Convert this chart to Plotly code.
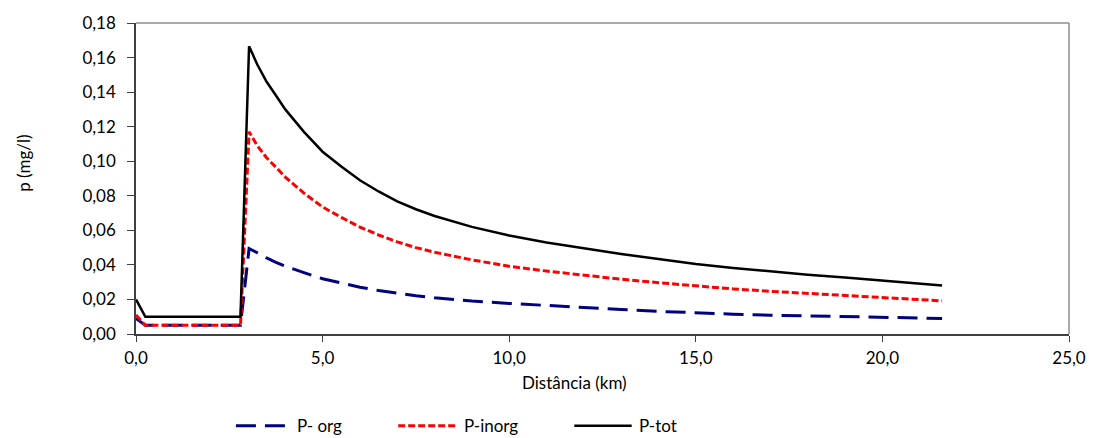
import plotly.graph_objects as go

distance_km = [0.0, 0.25, 2.8, 3.03, 3.25, 3.5, 3.75, 4.0, 4.5, 5.0, 5.5, 6.0, 6.5, 7.0, 7.5, 8.0,
               9.0, 10.0, 11.0, 12.0, 13.0, 14.0, 15.0, 16.0, 17.0, 18.0, 19.0, 20.0, 21.0, 21.6]
p_org = [0.009, 0.005, 0.005, 0.0495, 0.047, 0.044, 0.0415, 0.0392, 0.0355, 0.032, 0.0295,
         0.0271, 0.0252, 0.0235, 0.0222, 0.021, 0.0191, 0.0177, 0.0164, 0.0153, 0.0142,
         0.0131, 0.0122, 0.0115, 0.0109, 0.0104, 0.0099, 0.0095, 0.0092, 0.0090]
p_inorg = [0.011, 0.005, 0.005, 0.117, 0.109, 0.102, 0.0965, 0.0908, 0.0815, 0.0735, 0.0675,
           0.0619, 0.0573, 0.0533, 0.050, 0.0473, 0.0429, 0.0392, 0.0364, 0.0339, 0.0317,
           0.0297, 0.0277, 0.0261, 0.0247, 0.0234, 0.0222, 0.0209, 0.0199, 0.0192]
p_tot = [0.020, 0.010, 0.010, 0.1665, 0.156, 0.146, 0.138, 0.130, 0.117, 0.1055, 0.097, 0.089,
         0.0825, 0.0768, 0.0722, 0.0683, 0.0620, 0.0570, 0.0530, 0.0495, 0.0463, 0.0434,
         0.0405, 0.0382, 0.0361, 0.0343, 0.0327, 0.0310, 0.0293, 0.0280]

series_names = ["P- org", "P-inorg", "P-tot"]
x_ticks = [0, 5, 10, 15, 20, 25]
y_ticks = [0.0, 0.02, 0.04, 0.06, 0.08, 0.10, 0.12, 0.14, 0.16, 0.18]

W, H = 1098, 438
L, R, T, B = 136, 19, 22, 104
FONT = "Lato"
FS = 17

styles = [
    dict(color="#000080", width=3, dash="20px,9px"),
    dict(color="#FF0000", width=3, dash="7px,3px"),
    dict(color="#000000", width=2.5, dash="solid"),
]
values = [p_org, p_inorg, p_tot]

fig = go.Figure()
for name, v, st in zip(series_names, values, styles):
    fig.add_trace(go.Scatter(x=distance_km, y=v, mode="lines", name=name,
                             line=st, showlegend=False))

fig.update_layout(
    width=W, height=H,
    margin=dict(l=L, r=R, t=T, b=B),
    paper_bgcolor="white", plot_bgcolor="white",
    separators=",.",
    font=dict(family=FONT, size=FS, color="#000000"),
    xaxis=dict(range=[0, 25], tickvals=x_ticks, tickformat=".1f", showgrid=False,
               zeroline=False, showline=True, linecolor="#404040", linewidth=1.5,
               ticks="outside", ticklen=6, tickcolor="#404040", tickwidth=1.2,
               ticklabelstandoff=2),
    yaxis=dict(range=[0, 0.18], tickvals=y_ticks, tickformat=".2f", showgrid=False,
               zeroline=False, showline=True, linecolor="#404040", linewidth=1.5,
               ticks="outside", ticklen=7, tickcolor="#404040", tickwidth=1.2,
               ticklabelstandoff=8),
)

shapes = [
    dict(type="line", xref="paper", yref="paper", x0=0, x1=1, y0=1, y1=1,
         line=dict(color="#8c8c8c", width=1.5)),
    dict(type="line", xref="paper", yref="paper", x0=1, x1=1, y0=0, y1=1,
         line=dict(color="#8c8c8c", width=1.5)),
]

pw = W - L - R
ph = H - T - B

def to_paper_x(pxv):
    return (pxv - L) / pw

def to_paper_y(pyv):
    return (H - B - pyv) / ph

legend_pos = [(237, 293, 297), (401, 460, 465), (579, 637, 642)]
annotations = []
ly = 426
for name, st, (x0, x1, tx) in zip(series_names, styles, legend_pos):
    shapes.append(dict(type="line", xref="paper", yref="paper",
                       x0=to_paper_x(x0), x1=to_paper_x(x1),
                       y0=to_paper_y(ly), y1=to_paper_y(ly),
                       line=dict(color=st["color"], width=st["width"], dash=st["dash"])))
    annotations.append(dict(text=name, xref="paper", yref="paper",
                            x=to_paper_x(tx), y=to_paper_y(ly), xanchor="left",
                            yanchor="middle", showarrow=False,
                            font=dict(family=FONT, size=FS, color="#000000")))

annotations.append(dict(text="Distância (km)", xref="paper", yref="paper",
                        x=to_paper_x(579), y=to_paper_y(383), xanchor="center",
                        yanchor="middle", showarrow=False,
                        font=dict(family=FONT, size=FS, color="#000000")))
annotations.append(dict(text="p (mg/l)", xref="paper", yref="paper",
                        x=to_paper_x(22), y=to_paper_y(163), xanchor="center",
                        yanchor="middle", showarrow=False, textangle=-90,
                        font=dict(family=FONT, size=FS, color="#000000")))

fig.update_layout(shapes=shapes, annotations=annotations)
fig.write_html("out.html")
